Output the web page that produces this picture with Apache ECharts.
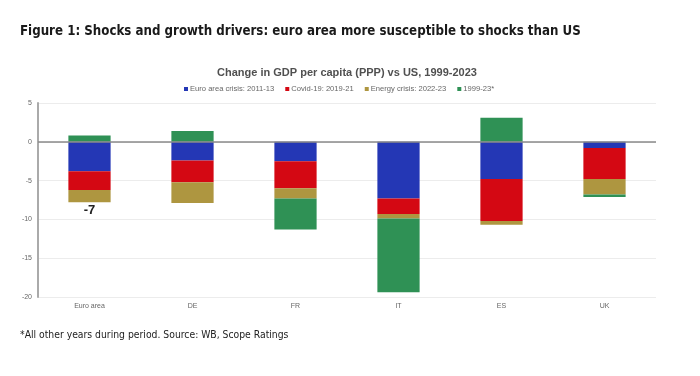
<!DOCTYPE html>
<html>
<head>
<meta charset="utf-8">
<script src="https://cdn.jsdelivr.net/npm/echarts@6/dist/echarts.min.js"></script>
<style>
  html, body {margin: 0; padding: 0; background: #fff;}
  #main {width: 700px; height: 376px;}
</style>
</head>
<body>
<div id="main"></div>
<script>
    // data
    const categories = ['Euro area', 'DE', 'FR', 'IT', 'ES', 'UK'];
    const euroCrisis = [-3.8, -2.4, -2.5, -7.3, -4.8, -0.8];
    const covid = [-2.4, -2.8, -3.5, -2.0, -5.4, -4.0];
    const energy = [-1.6, -2.7, -1.3, -0.6, -0.5, -2.0];
    const otherYears = [0.8, 1.4, -4.0, -9.5, 3.1, -0.3];
    const totalLabels = ['-7', '', '', '', '', ''];
    const seriesNames = ['Euro area crisis: 2011-13', 'Covid-19: 2019-21', 'Energy crisis: 2022-23', '1999-23*'];
    const colors = ['#2437b5', '#d40813', '#ae9640', '#2f9155'];

    const narrow = "'DejaVu Sans Condensed', Roboto, sans-serif";

    let chart = echarts.init(document.getElementById('main'));

    function makeSeries(name, data, color, idx) {
        let s = {
            name: name,
            type: 'bar',
            stack: 'total',
            barWidth: '41%',
            itemStyle: {color: color},
            data: data.slice()
        };
        if (idx === 2) {
            // total label sits under the energy block
            s.data = data.map((v, i) => totalLabels[i] ? {
                value: v,
                label: {
                    show: true, position: 'bottom', distance: 2,
                    formatter: totalLabels[i], fontWeight: 'bold', fontSize: 13,
                    color: '#222', fontFamily: 'Liberation Sans'
                }
            } : v);
        }
        if (idx === 0) {
            s.markLine = {
                silent: true,
                symbol: 'none',
                label: {show: false},
                lineStyle: {color: '#8a8a8a', width: 1.5, type: 'solid'},
                data: [{yAxis: 0}]
            };
        }
        return s;
    }

    var option = {
        backgroundColor: '#fff',
        animation: false,
        title: [{
            text: 'Figure 1: Shocks and growth drivers: euro area more susceptible to shocks than US',
            left: 15,
            top: 20,
            textStyle: {fontFamily: narrow, fontWeight: 'bold', fontSize: 13.2, color: '#1a1a1a'}
        }, {
            text: 'Change in GDP per capita (PPP) vs US, 1999-2023',
            left: 342,
            textAlign: 'center',
            top: 62,
            textStyle: {fontFamily: 'Liberation Sans', fontWeight: 'bold', fontSize: 11, color: '#505050'}
        }, {
            text: '*All other years during period. Source: WB, Scope Ratings',
            left: 15,
            top: 325,
            textStyle: {fontFamily: narrow, fontWeight: 'normal', fontSize: 10.3, color: '#222'}
        }],
        legend: {
            data: seriesNames,
            top: 80,
            left: 179,
            icon: 'rect',
            itemWidth: 4,
            itemHeight: 4,
            itemGap: 11,
            textStyle: {fontFamily: 'Liberation Sans', fontSize: 7.6, color: '#666', padding: [0, 0, 0, -3]}
        },
        grid: {
            top: 103,
            left: 38,
            right: 44,
            bottom: 79
        },
        xAxis: {
            type: 'category',
            data: categories,
            axisLine: {show: false, onZero: false},
            axisTick: {show: false},
            axisLabel: {fontFamily: 'Liberation Sans', fontSize: 7, color: '#666', margin: 6}
        },
        yAxis: {
            type: 'value',
            min: -20,
            max: 5,
            interval: 5,
            axisLine: {show: true, lineStyle: {color: '#aaaaaa', width: 2}},
            axisTick: {show: false},
            axisLabel: {fontFamily: 'Liberation Sans', fontSize: 7, color: '#666', margin: 6},
            splitLine: {show: true, lineStyle: {color: '#ececec', width: 1}}
        },
        series: [
            makeSeries(seriesNames[0], euroCrisis, colors[0], 0),
            makeSeries(seriesNames[1], covid, colors[1], 1),
            makeSeries(seriesNames[2], energy, colors[2], 2),
            makeSeries(seriesNames[3], otherYears, colors[3], 3)
        ]
    };

    chart.setOption(option);
</script>
</body>
</html>
